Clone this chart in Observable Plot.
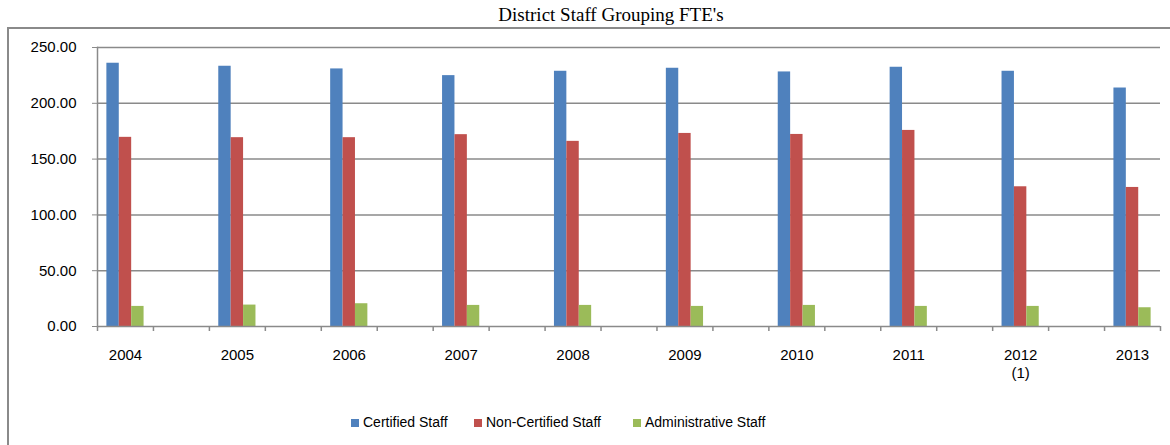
<!DOCTYPE html>
<html>
<head>
<meta charset="utf-8">
<script src="https://cdn.jsdelivr.net/npm/d3@7"></script>
<script src="https://cdn.jsdelivr.net/npm/@observablehq/plot@0.6"></script>
<style>
  html, body { margin: 0; padding: 0; background: #fff; overflow: hidden; }
  #wrap { position: relative; width: 1170px; height: 445px; overflow: hidden; }
  #border { position: absolute; left: 7px; top: 27px; width: 1300px; height: 600px;
            border-left: 2px solid #8a8a8a; border-top: 2px solid #8a8a8a; box-sizing: border-box; }
  #title { position: absolute; left: 0; top: 0; width: 1222px; height: 27px; text-align: center;
           font-family: "Liberation Serif", "DejaVu Serif", serif; font-size: 19px; line-height: 30px; color: #000; }
  #chart { position: absolute; left: 0; top: 27px; }
  #legend { position: absolute; left: 0; top: 412px; width: 1170px; height: 20px;
            font-family: "Liberation Sans", Arial, sans-serif; font-size: 14px; color: #000; }
  .item { position: absolute; top: 0; height: 20px; line-height: 20px; white-space: nowrap; }
  .sw { display: inline-block; width: 8px; height: 8px; margin-right: 4px; vertical-align: 0px; }
</style>
</head>
<body>
<div id="wrap">
  <div id="border"></div>
  <div id="title"></div>
  <div id="chart"></div>
  <div id="legend"></div>
</div>
<script>
const title = "District Staff Grouping FTE's";
const years = ["2004", "2005", "2006", "2007", "2008", "2009", "2010", "2011", "2012", "2013"];
const yearLabels = ["2004", "2005", "2006", "2007", "2008", "2009", "2010", "2011", "2012\n(1)", "2013"];
const seriesNames = ["Certified Staff", "Non-Certified Staff", "Administrative Staff"];
const seriesColors = ["#4F81BD", "#C0504D", "#9BBB59"];
const certified = [235.9, 233.2, 230.8, 224.8, 228.7, 231.4, 228.1, 232.3, 228.7, 213.7];
const nonCertified = [169.5, 169.2, 169.2, 171.9, 165.9, 173.0, 172.1, 175.7, 125.2, 124.6];
const administrative = [18.0, 19.2, 20.4, 18.9, 18.9, 18.0, 18.9, 18.0, 18.0, 16.8];
const yTicks = [0, 50, 100, 150, 200, 250];

document.getElementById("title").textContent = title;

// Category axis: each year is followed by an empty category (as in the source chart)
const categories = [];
years.forEach((y, i) => { categories.push(y); if (i < years.length - 1) categories.push("gap" + i); });
const labelOf = new Map(years.map((y, i) => [y, yearLabels[i]]));

const W = 1170, H = 363;
const mL = 97, mR = 10, mT = 20, mB = 64;
const bw = (W - mL - mR) / categories.length;
const barW = 12.4;
const inset = (bw - barW) / 2;

const values = [certified, nonCertified, administrative];
const rows = values.map(vals => years.map((y, i) => ({year: y, value: vals[i]})));

const grid = "#8a8a8a";
const tickLen = 5 * 250 / (H - mT - mB); // 5px expressed in y units
const plot = Plot.plot({
  width: W, height: H,
  marginLeft: mL, marginRight: mR, marginTop: mT, marginBottom: mB,
  style: {fontFamily: "'Liberation Sans', Arial, sans-serif", fontSize: "15px", color: "#000", background: "transparent"},
  x: {domain: categories, padding: 0, round: false, axis: null, label: null},
  y: {domain: [0, 250], axis: null, label: null},
  marks: [
    Plot.ruleY(yTicks.slice(1), {y: d => d, stroke: grid, strokeWidth: 1.5}),
    ...rows.map((r, k) => Plot.barY(r, {
      x: "year", y: "value", fill: seriesColors[k],
      insetLeft: inset, insetRight: inset, dx: (k - 1) * barW
    })),
    Plot.axisY({ticks: yTicks, tickFormat: d3.format(".2f"), tickSize: 5, tickPadding: 16,
                stroke: grid, fontSize: 15, label: null}),
    Plot.frame({anchor: "left", stroke: grid, strokeWidth: 1.5}),
    Plot.ruleY([0], {stroke: grid, strokeWidth: 1.5}),
    Plot.ruleX(categories, {x: d => d, y1: 0, y2: -tickLen, dx: -bw / 2, stroke: grid, strokeWidth: 1.5}),
    Plot.ruleX([categories[categories.length - 1]], {x: d => d, y1: 0, y2: -tickLen, dx: bw / 2, stroke: grid, strokeWidth: 1.5}),
    Plot.axisX({ticks: years, tickSize: 0, tickPadding: 21, tickFormat: d => labelOf.get(d) ?? "", fontSize: 15, lineHeight: 1.2, label: null})
  ]
});
document.getElementById("chart").appendChild(plot);

// Legend
const legend = document.getElementById("legend");
const lefts = [351, 474, 633];
seriesNames.forEach((name, i) => {
  const it = document.createElement("div");
  it.className = "item";
  it.style.left = lefts[i] + "px";
  const sw = document.createElement("span");
  sw.className = "sw";
  sw.style.background = seriesColors[i];
  it.appendChild(sw);
  it.appendChild(document.createTextNode(name));
  legend.appendChild(it);
});
</script>
</body>
</html>
